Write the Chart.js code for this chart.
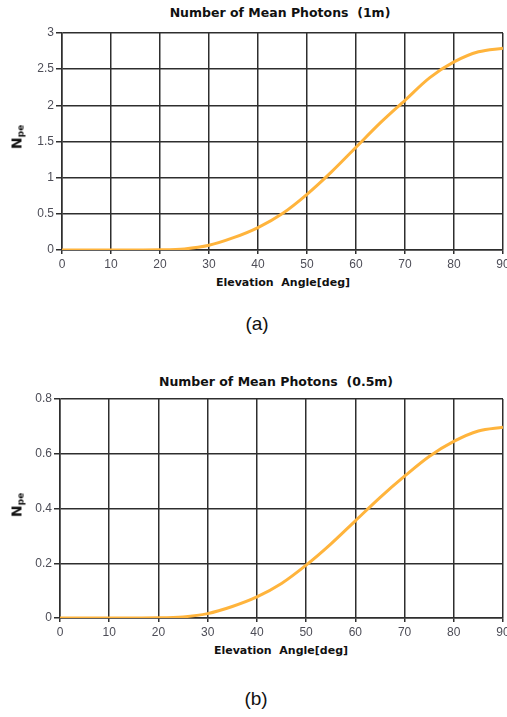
<!DOCTYPE html>
<html>
<head>
<meta charset="utf-8">
<script src="https://cdn.jsdelivr.net/npm/chart.js@4"></script>
<style>
  html, body { margin: 0; padding: 0; background: #fff; }
  body { width: 507px; height: 717px; position: relative; overflow: hidden; font-family: "DejaVu Sans", sans-serif; }
  .box { position: absolute; left: 0; width: 507px; }
  .title { position: absolute; font: bold 12.5px "DejaVu Sans", sans-serif; color: #111; white-space: pre; transform: translateX(-50%); }
  .xlab { position: absolute; font: bold 11px "DejaVu Sans", sans-serif; color: #111; white-space: pre; transform: translateX(-50%); }
  .ylab { position: absolute; font: bold 14px "DejaVu Sans", sans-serif; color: #111; white-space: pre; transform: translate(-50%, -50%) rotate(-90deg); }
  .ylab sub { font-size: 9px; vertical-align: -2px; }
  .cap { position: absolute; font: 19px "Liberation Sans", Arial, sans-serif; color: #111; transform: translateX(-50%); }
</style>
</head>
<body>
<div class="title" style="left:280px; top:5px;">Number of Mean Photons  (1m)</div>
<div class="box" style="top:0; height:270px;"><canvas id="c1"></canvas></div>
<div class="xlab" style="left:283px; top:276px;">Elevation  Angle[deg]</div>
<div class="ylab" style="left:17px; top:137px;">N<sub>pe</sub></div>
<div class="cap" style="left:257px; top:313px;">(a)</div>

<div class="title" style="left:276px; top:374px;">Number of Mean Photons  (0.5m)</div>
<div class="box" style="top:366px; height:272px;"><canvas id="c2"></canvas></div>
<div class="xlab" style="left:281px; top:644px;">Elevation  Angle[deg]</div>
<div class="ylab" style="left:17px; top:505px;">N<sub>pe</sub></div>
<div class="cap" style="left:256px; top:688px;">(b)</div>

<script>
const elevation = [0, 5, 10, 15, 20, 25, 30, 35, 40, 45, 50, 55, 60, 65, 70, 75, 80, 85, 90];
const photons1m = [0, 0, 0, 0, 0.002, 0.015, 0.065, 0.17, 0.31, 0.505, 0.77, 1.08, 1.42, 1.76, 2.07, 2.38, 2.6, 2.74, 2.79];
const photons05m = [0, 0, 0, 0, 0.0005, 0.004, 0.016, 0.042, 0.077, 0.126, 0.193, 0.27, 0.355, 0.44, 0.518, 0.59, 0.645, 0.683, 0.697];
const xTicks = [0, 10, 20, 30, 40, 50, 60, 70, 80, 90];
const yTicks1 = [0, 0.5, 1, 1.5, 2, 2.5, 3];
const yTicks2 = [0, 0.2, 0.4, 0.6, 0.8];

const gridColor = '#2e2e2e';
const tickColor = '#4d4d57';
const lineColor = '#FFB43C';

function makeChart(id, values, yTicks, yAxisWidth) {
  const yMax = yTicks[yTicks.length - 1];
  const step = yTicks[1] - yTicks[0];
  return new Chart(document.getElementById(id), {
    type: 'line',
    data: {
      datasets: [{
        data: elevation.map((e, i) => ({ x: e, y: values[i] })),
        borderColor: lineColor,
        borderWidth: 3,
        pointRadius: 0,
        cubicInterpolationMode: 'monotone',
        fill: false
      }]
    },
    options: {
      responsive: true,
      maintainAspectRatio: false,
      animation: false,
      layout: { padding: { top: 33, right: 4, left: 0, bottom: 0 } },
      plugins: { legend: { display: false }, tooltip: { enabled: false }, title: { display: false } },
      scales: {
        x: {
          type: 'linear', min: 0, max: 90,
          afterBuildTicks: s => { s.ticks = xTicks.map(v => ({ value: v })); },
          afterFit: s => { s.height = 20; s.paddingLeft = 0; s.paddingRight = 0; },
          grid: { color: gridColor, lineWidth: 1.5, tickLength: 4, drawTicks: true, tickColor: gridColor },
          border: { color: gridColor, width: 1.5 },
          ticks: { color: tickColor, font: { family: 'Liberation Sans', size: 12 }, padding: 3, maxRotation: 0, autoSkip: false }
        },
        y: {
          type: 'linear', min: 0, max: yMax,
          afterBuildTicks: s => { s.ticks = yTicks.map(v => ({ value: v })); },
          afterFit: s => { s.width = yAxisWidth; s.paddingTop = 0; s.paddingBottom = 0; },
          grid: { color: gridColor, lineWidth: 1.5, tickLength: 6, tickColor: gridColor },
          border: { color: gridColor, width: 1.5 },
          ticks: { color: tickColor, font: { family: 'Liberation Sans', size: 12 }, padding: 2, stepSize: step,
                   callback: v => String(Math.round(v * 10) / 10) }
        }
      }
    }
  });
}

makeChart('c1', photons1m, yTicks1, 62);
makeChart('c2', photons05m, yTicks2, 60);
</script>
</body>
</html>
